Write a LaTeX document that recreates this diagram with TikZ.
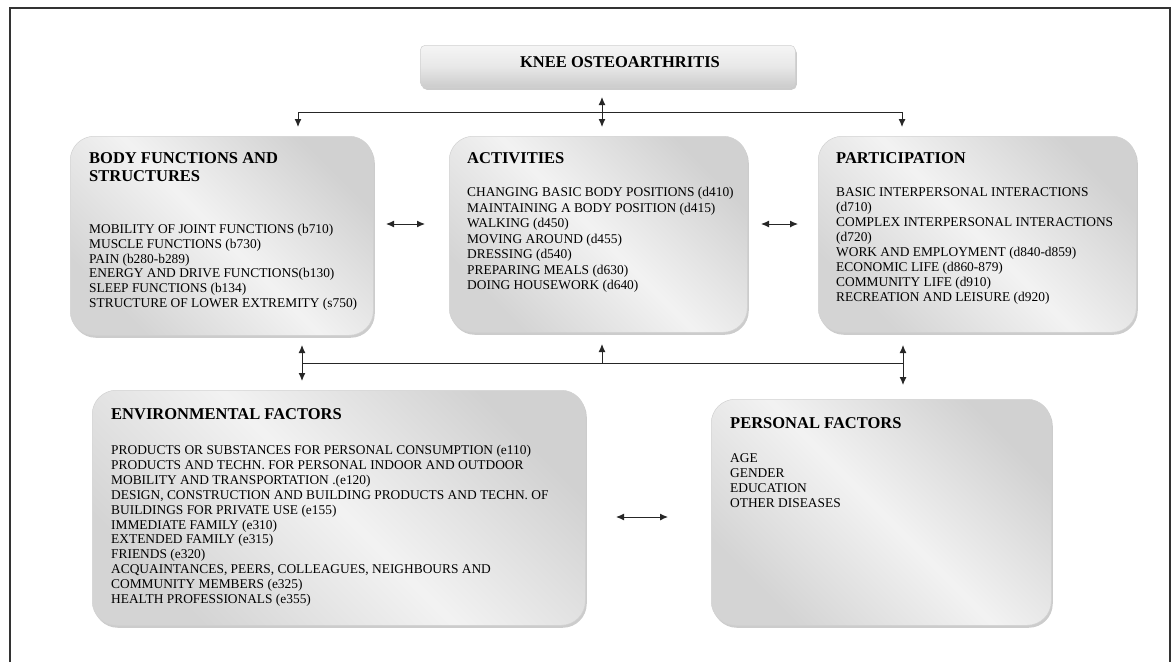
\documentclass[tikz,border=0pt]{standalone}
\usepackage{fontspec}
\setmainfont{Liberation Serif}
\usetikzlibrary{arrows.meta,shadows}
\begin{document}
\begin{tikzpicture}[x=1pt,y=-1pt,
  panel/.style={draw=black!18, line width=0.5pt, rounded corners=24pt,
    top color=black!18, bottom color=black!17, middle color=black!5, shading angle=-45,
    drop shadow={shadow xshift=1.5pt, shadow yshift=-2.5pt, fill=black!50, opacity=0.4},
    inner sep=0pt, anchor=north west},
  titlebox/.style={panel, rounded corners=5pt, top color=black!4, bottom color=black!20, middle color=black!9, shading angle=0},
  head/.style={anchor=north west, inner sep=0pt, align=left, font=\fontsize{16.5}{18}\selectfont\bfseries},
  items/.style={anchor=north west, inner sep=0pt, align=left, font=\fontsize{13.4}{#1}\selectfont},
  items/.default=15.1,
  link/.style={line width=1pt, draw=black!85},
  tip/.style={link, -{Latex[length=8pt,width=7pt]}},
  dtip/.style={link, {Latex[length=8pt,width=7pt]}-{Latex[length=8pt,width=7pt]}}
]
\useasboundingbox (0,0) rectangle (1175,662);
% frame
\draw[line width=1.3pt, black!80] (10,662) -- (10,8) -- (1170,8) -- (1170,662);

% boxes
\node[titlebox, minimum width=375pt, minimum height=42pt] (knee) at (420,45) {};
\node[font=\fontsize{16.5}{18}\selectfont\bfseries, inner sep=0pt] (kneet) at (620,62) {KNEE OSTEOARTHRITIS};

\node[panel, minimum width=303pt, minimum height=199pt] (bf) at (70,136) {};
\node[panel, minimum width=298pt, minimum height=196pt] (act) at (449,136) {};
\node[panel, minimum width=318pt, minimum height=196pt] (par) at (818,136) {};
\node[panel, minimum width=493pt, minimum height=235pt] (env) at (92,390) {};
\node[panel, minimum width=340pt, minimum height=226pt] (pers) at (711,399) {};

% texts
\node[head] (bfh) at (89,152) {BODY FUNCTIONS AND\\STRUCTURES};
\node[items=14.8] (bfi) at (89,224) {MOBILITY OF JOINT FUNCTIONS (b710)\\MUSCLE FUNCTIONS (b730)\\PAIN (b280-b289)\\ENERGY AND DRIVE FUNCTIONS(b130)\\SLEEP FUNCTIONS (b134)\\STRUCTURE OF LOWER EXTREMITY (s750)};

\node[head] (acth) at (467,152) {ACTIVITIES};
\node[items=15.5] (acti) at (467,187) {CHANGING BASIC BODY POSITIONS (d410)\\MAINTAINING A BODY POSITION (d415)\\WALKING (d450)\\MOVING AROUND (d455)\\DRESSING (d540)\\PREPARING MEALS (d630)\\DOING HOUSEWORK (d640)};

\node[head] (parh) at (836,152) {PARTICIPATION};
\node[items=15.1] (pari) at (836,187) {BASIC INTERPERSONAL INTERACTIONS\\(d710)\\COMPLEX INTERPERSONAL INTERACTIONS\\(d720)\\WORK AND EMPLOYMENT (d840-d859)\\ECONOMIC LIFE (d860-879)\\COMMUNITY LIFE (d910)\\RECREATION AND LEISURE (d920)};

\node[head] (envh) at (111,408) {ENVIRONMENTAL FACTORS};
\node[items=14.9] (envi) at (111,445) {PRODUCTS OR SUBSTANCES FOR PERSONAL CONSUMPTION (e110)\\PRODUCTS AND TECHN. FOR PERSONAL INDOOR AND OUTDOOR\\MOBILITY AND TRANSPORTATION .(e120)\\DESIGN, CONSTRUCTION AND BUILDING PRODUCTS AND TECHN. OF\\BUILDINGS FOR PRIVATE USE (e155)\\IMMEDIATE FAMILY (e310)\\EXTENDED FAMILY (e315)\\FRIENDS (e320)\\ACQUAINTANCES, PEERS, COLLEAGUES, NEIGHBOURS AND\\COMMUNITY MEMBERS (e325)\\HEALTH PROFESSIONALS (e355)};

\node[head] (persh) at (730,417) {PERSONAL FACTORS};
\node[items=15.3] (persi) at (730,453) {AGE\\GENDER\\EDUCATION\\OTHER DISEASES};

% top connectors
\coordinate (ta) at (602,97);
\coordinate (tb) at (602,127);
\coordinate (tl) at (298,112);
\coordinate (tr) at (902,112);
\coordinate (tld) at (298,127);
\coordinate (trd) at (902,127);
\draw[dtip] (ta) -- (tb);
\draw[link] (tl) -- (tr);
\draw[tip] (tl) -- (tld);
\draw[tip] (tr) -- (trd);

% side connectors
\coordinate (h1a) at (386,224);
\coordinate (h1b) at (425,224);
\coordinate (h2a) at (761,224);
\coordinate (h2b) at (798,224);
\draw[dtip] (h1a) -- (h1b);
\draw[dtip] (h2a) -- (h2b);

% bottom connectors
\coordinate (bl) at (302,363);
\coordinate (br) at (903,363);
\coordinate (bm) at (602,363);
\coordinate (blu) at (302,345);
\coordinate (bld) at (302,381);
\coordinate (bmu) at (602,344);
\coordinate (bru) at (903,345);
\coordinate (brd) at (903,385);
\draw[link] (bl) -- (br);
\draw[dtip] (blu) -- (bld);
\draw[tip] (bm) -- (bmu);
\draw[dtip] (bru) -- (brd);

% environmental <-> personal
\coordinate (e1) at (616,517);
\coordinate (e2) at (668,517);
\draw[dtip] (e1) -- (e2);
\end{tikzpicture}
\end{document}
